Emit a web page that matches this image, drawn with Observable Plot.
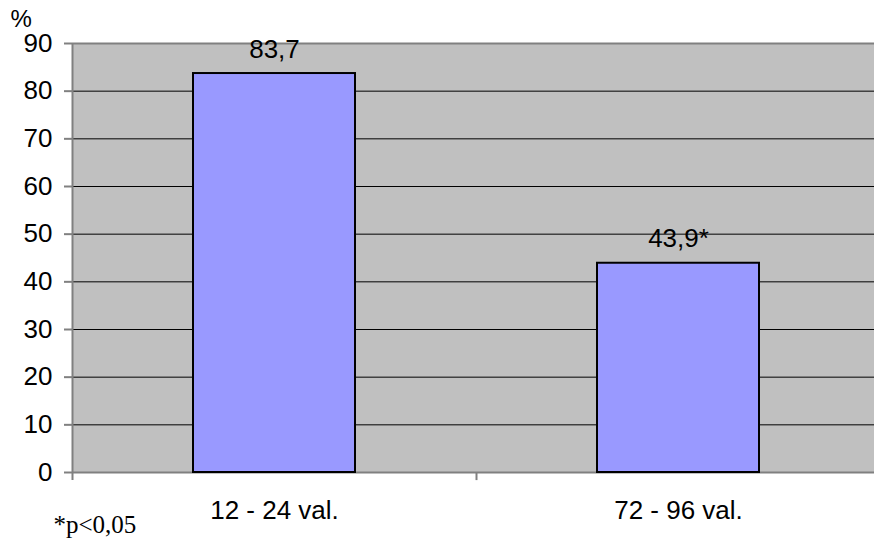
<!DOCTYPE html>
<html>
<head>
<meta charset="utf-8">
<script src="https://cdn.jsdelivr.net/npm/d3@7"></script>
<script src="https://cdn.jsdelivr.net/npm/@observablehq/plot@0.6"></script>
<style>
  html, body { margin: 0; padding: 0; background: #ffffff; overflow: hidden; }
  #chart svg { display: block; }
</style>
</head>
<body>
<div id="chart"></div>
<script>
// Age groups and share of cases (%)
const categories = ["12 - 24 val.", "72 - 96 val."];
const values = [83.7, 43.9];
const marks = ["", "*"];            // significance marker after the value
const yTicks = [0, 10, 20, 30, 40, 50, 60, 70, 80, 90];
const yUnit = "%";
const note = "*p<0,05";

const data = categories.map((c, i) => ({ category: c, value: values[i], mark: marks[i] }));
const fmt = v => v.toFixed(1).replace(".", ",");

const width = 874, height = 539;
const marginLeft = 72, marginRight = -6, marginTop = 43, marginBottom = 67;
const step = (width - marginLeft - marginRight) / categories.length;
const gray = "#808080";
const fs = 26;

const chart = Plot.plot({
  width, height, marginLeft, marginRight, marginTop, marginBottom,
  style: { fontFamily: "'Liberation Sans', Arial, sans-serif", fontSize: fs + "px", color: "#000", background: "#fff" },
  x: { domain: categories, paddingInner: 0.6, paddingOuter: 0.3, align: 0.5, label: null },
  y: { domain: [0, 90], ticks: yTicks, label: null },
  marks: [
    Plot.frame({ fill: "#c0c0c0", stroke: null }),
    Plot.ruleY(yTicks.filter(v => v > 0 && v < 90), { stroke: "#000", strokeWidth: 1 }),
    Plot.ruleY([90], { stroke: gray, strokeWidth: 2 }),
    Plot.ruleY([0], { stroke: gray, strokeWidth: 2 }),
    // value axis line on the left edge of the first category
    Plot.ruleX([categories[0]], { dx: -step / 2, y1: -1.7, y2: 90, stroke: gray, strokeWidth: 2 }),
    // category separators below the baseline
    Plot.ruleX(categories.slice(1), { dx: -step / 2, y1: 0, y2: -1.7, stroke: gray, strokeWidth: 2 }),
    Plot.barY(data, { x: "category", y: "value", fill: "#9999ff", stroke: "#000", strokeWidth: 2 }),
    Plot.text(data, {
      x: "category", y: "value", text: d => fmt(d.value) + d.mark,
      lineAnchor: "bottom", dy: -16, fontSize: fs, fill: "#000"
    }),
    Plot.axisY({ ticks: yTicks, tickSize: 8, tickPadding: 12, stroke: gray, strokeWidth: 2, fill: "#000", fontSize: fs, label: null }),
    Plot.axisX({ tickSize: 0, tickPadding: 28, fill: "#000", fontSize: fs, label: null }),
    Plot.text([yUnit], { frameAnchor: "top-left", textAnchor: "start", lineAnchor: "bottom", dx: -62, dy: -17, fontSize: 24, fill: "#000" }),
    Plot.text([note], {
      frameAnchor: "bottom-left", textAnchor: "start", lineAnchor: "bottom", dx: -19, dy: 60,
      fontSize: 25, fontFamily: "'Liberation Serif', 'Times New Roman', serif", fill: "#000"
    })
  ]
});
document.getElementById("chart").appendChild(chart);
</script>
</body>
</html>
